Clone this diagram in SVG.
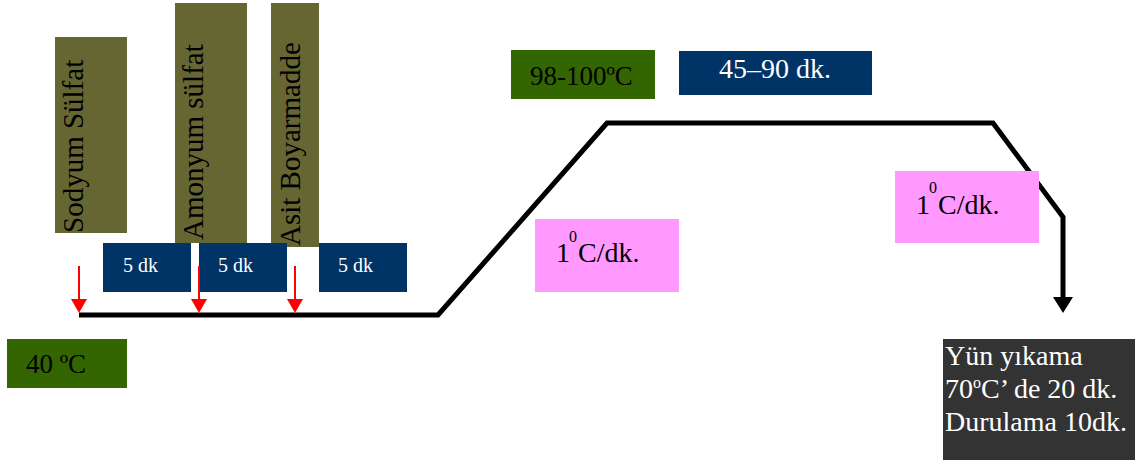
<svg xmlns="http://www.w3.org/2000/svg" width="1143" height="465" viewBox="0 0 1143 465">
<style>
text{font-family:"Liberation Serif","Times New Roman",serif;}
.olive{fill:#666633;}
.blue{fill:#003366;}
.green{fill:#336600;}
.pink{fill:#FF99FF;}
.dark{fill:#333333;}
.vt{font-size:29px;fill:#000;}
.dk5{font-size:20px;fill:#fff;}
.bt{font-size:27px;fill:#000;}
.wt{font-size:28px;fill:#fff;}
.sup{font-size:16px;fill:#000;}
.prof{fill:none;stroke:#000;stroke-width:5;stroke-linejoin:miter;}
.red{stroke:#FF0000;stroke-width:2;fill:none;}
</style>
<defs>
<marker id="redHead" markerWidth="16" markerHeight="14" refX="8" refY="14" orient="auto" markerUnits="userSpaceOnUse" viewBox="0 0 16 14">
<path d="M0,0 L16,0 L8,14 Z" fill="#FF0000" transform="rotate(-90 8 7)"/>
</marker>
</defs>

<g id="sodyum">
<rect class="olive" x="55" y="37" width="72" height="196"/>
<text class="vt" transform="translate(83,233) rotate(-90)">Sodyum Sülfat</text>
</g>
<g id="amonyum">
<rect class="olive" x="175" y="3" width="72" height="240"/>
<text class="vt" transform="translate(203,240) rotate(-90)">Amonyum sülfat</text>
</g>
<g id="asit">
<rect class="olive" x="271" y="3" width="48" height="244"/>
<text class="vt" transform="translate(300,246) rotate(-90)">Asit Boyarmadde</text>
</g>

<g id="dk5a">
<rect class="blue" x="103" y="243" width="88" height="49"/>
<text class="dk5" x="123" y="272">5 dk</text>
</g>
<g id="dk5b">
<rect class="blue" x="199" y="243" width="88" height="49"/>
<text class="dk5" x="218" y="272">5 dk</text>
</g>
<g id="dk5c">
<rect class="blue" x="319" y="243" width="88" height="49"/>
<text class="dk5" x="338" y="272">5 dk</text>
</g>

<g id="t40">
<rect class="green" x="7" y="339" width="120" height="49"/>
<text class="bt" x="26" y="373">40 ºC</text>
</g>

<g id="t98">
<rect class="green" x="511" y="50" width="144" height="49"/>
<text class="bt" x="530" y="85">98-100ºC</text>
</g>

<g id="t4590">
<rect class="blue" x="679" y="51" width="193" height="44"/>
<text class="wt" x="775" y="78" text-anchor="middle">45–90 dk.</text>
</g>

<g id="connectors">
<polyline class="prof" points="79,315 438,315 607,123 993,123 1063,217 1063,298"/>
<path d="M1053,297 L1073,297 L1063,313 Z" fill="#000"/>
<line class="red" x1="79" y1="266" x2="79" y2="300"/>
<path d="M71,299 L87,299 L79,313 Z" fill="#FF0000"/>
<line class="red" x1="199" y1="266" x2="199" y2="300"/>
<path d="M191,299 L207,299 L199,313 Z" fill="#FF0000"/>
<line class="red" x1="295" y1="266" x2="295" y2="300"/>
<path d="M287,299 L303,299 L295,313 Z" fill="#FF0000"/>
</g>

<g id="rate1">
<rect class="pink" x="535" y="219" width="144" height="73"/>
<text class="bt" x="556" y="262" style="font-size:28px">1</text>
<text class="sup" x="569" y="242">0</text>
<text class="bt" x="578" y="262" style="font-size:28px">C/dk.</text>
</g>

<g id="rate2">
<rect class="pink" x="895" y="171" width="144" height="72"/>
<text class="bt" x="916" y="214" style="font-size:28px">1</text>
<text class="sup" x="929" y="193">0</text>
<text class="bt" x="938" y="214" style="font-size:28px">C/dk.</text>
</g>

<g id="wash">
<rect class="dark" x="943" y="339" width="192" height="121"/>
<text class="wt" x="945" y="365">Yün yıkama</text>
<text class="wt" x="945" y="398">70<tspan dy="-10" font-size="16">o</tspan><tspan dy="10">C’ de 20 dk.</tspan></text>
<text class="wt" x="945" y="431">Durulama 10dk.</text>
</g>
</svg>
